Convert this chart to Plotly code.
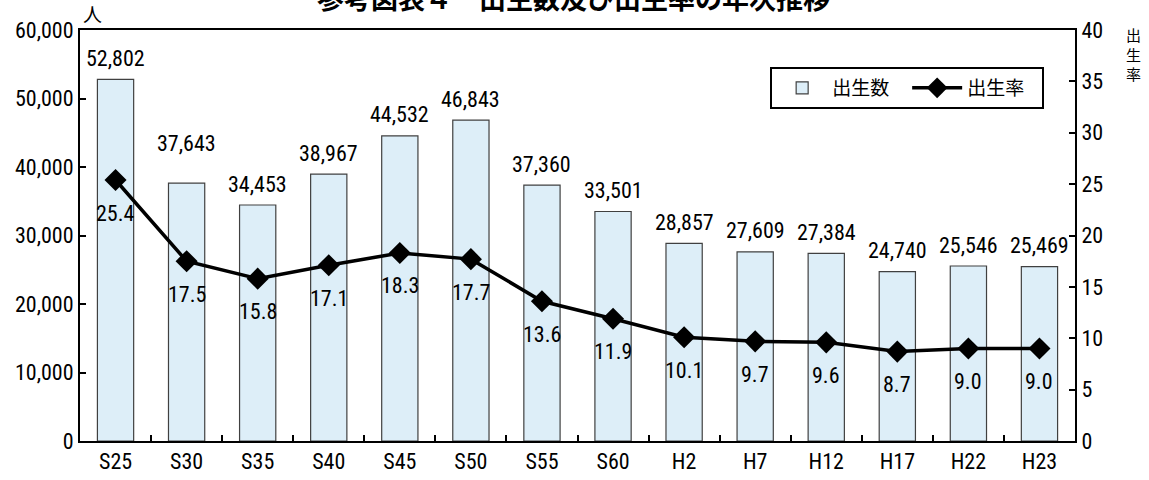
import plotly.graph_objects as go

categories = ["S25", "S30", "S35", "S40", "S45", "S50", "S55", "S60",
              "H2", "H7", "H12", "H17", "H22", "H23"]
births = [52802, 37643, 34453, 38967, 44532, 46843, 37360, 33501,
          28857, 27609, 27384, 24740, 25546, 25469]
rates = [25.4, 17.5, 15.8, 17.1, 18.3, 17.7, 13.6, 11.9,
         10.1, 9.7, 9.6, 8.7, 9.0, 9.0]

# label offsets in pixels (style only)
birth_label_shift = [21, 40, 21, 21, 21, 21, 21, 21, 21, 21, 21, 21, 21, 21]
rate_label_shift = -33

NUM_FONT = "Liberation Sans Narrow, Arial Narrow, Roboto Condensed, Noto Sans CJK JP, sans-serif"
CJK_FONT = "Noto Sans CJK JP, sans-serif"

fig = go.Figure()
fig.add_trace(go.Bar(
    x=categories, y=births, name="出生数",
    marker=dict(color="#DDEEF8", line=dict(color="#404040", width=1.2)),
    yaxis="y",
))
fig.add_trace(go.Scatter(
    x=categories, y=rates, name="出生率", mode="lines+markers",
    line=dict(color="black", width=3.5),
    marker=dict(symbol="diamond", size=17, color="black"),
    yaxis="y2",
))

annotations = []
for c, v, s in zip(categories, births, birth_label_shift):
    annotations.append(dict(x=c, y=v, xref="x", yref="y", text=f"{v:,}",
                            showarrow=False, yanchor="middle", yshift=s,
                            font=dict(family=NUM_FONT, size=22, color="black")))
for c, r in zip(categories, rates):
    annotations.append(dict(x=c, y=r, xref="x", yref="y2", text=f"{r:.1f}",
                            showarrow=False, yanchor="middle", yshift=rate_label_shift,
                            font=dict(family=NUM_FONT, size=22, color="black")))

# title (partly above the page, as in the reference)
annotations.append(dict(x=0.4955, y=1.078, xref="paper", yref="paper",
                        text="<b>参考図表４　出生数及び出生率の年次推移</b>",
                        showarrow=False, xanchor="center", yanchor="middle",
                        font=dict(family=CJK_FONT, size=27, color="black")))
# axis unit labels
annotations.append(dict(x=0.0125, y=1.039, xref="paper", yref="paper", text="人",
                        showarrow=False, xanchor="center", yanchor="middle",
                        font=dict(family=CJK_FONT, size=19, color="black")))
annotations.append(dict(x=1.0583, y=1.019, xref="paper", yref="paper",
                        text="出<br>生<br>率", showarrow=False,
                        xanchor="center", yanchor="top",
                        font=dict(family=CJK_FONT, size=15, color="black")))

fig.update_layout(
    width=1149, height=480,
    margin=dict(l=80, r=74, t=30, b=39, autoexpand=False),
    paper_bgcolor="white", plot_bgcolor="white",
    bargap=0.49,
    showlegend=True,
    legend=dict(orientation="h", x=0.969, y=0.91, xanchor="right", yanchor="top",
                bordercolor="black", borderwidth=2, bgcolor="white",
                font=dict(family=CJK_FONT, size=19, color="black"),
                entrywidth=70, entrywidthmode="pixels", itemwidth=50),
    annotations=annotations,
    xaxis=dict(range=[-0.5, len(categories) - 0.5],
               showline=True, linecolor="black", linewidth=2, mirror=True,
               ticks="inside", ticklen=6, tickwidth=2, tickcolor="black",
               tickson="boundaries", showgrid=False, automargin=False,
               tickfont=dict(family=NUM_FONT, size=22, color="black")),
    yaxis=dict(range=[0, 60000], dtick=10000, tickformat=",",
               showline=True, linecolor="black", linewidth=2,
               ticks="inside", ticklen=6, tickwidth=2, tickcolor="black",
               showgrid=False, zeroline=False, automargin=False,
               tickfont=dict(family=NUM_FONT, size=22, color="black")),
    yaxis2=dict(range=[0, 40], dtick=5, overlaying="y", side="right",
                showline=True, linecolor="black", linewidth=2,
                ticks="inside", ticklen=6, tickwidth=2, tickcolor="black",
                showgrid=False, zeroline=False, automargin=False,
                tickfont=dict(family=NUM_FONT, size=22, color="black")),
)

# remove the browser's default 8px page margin so the chart sits at the window origin
fig.write_html("out.html", config={"displayModeBar": False},
               post_script="document.body.style.margin='0';")
